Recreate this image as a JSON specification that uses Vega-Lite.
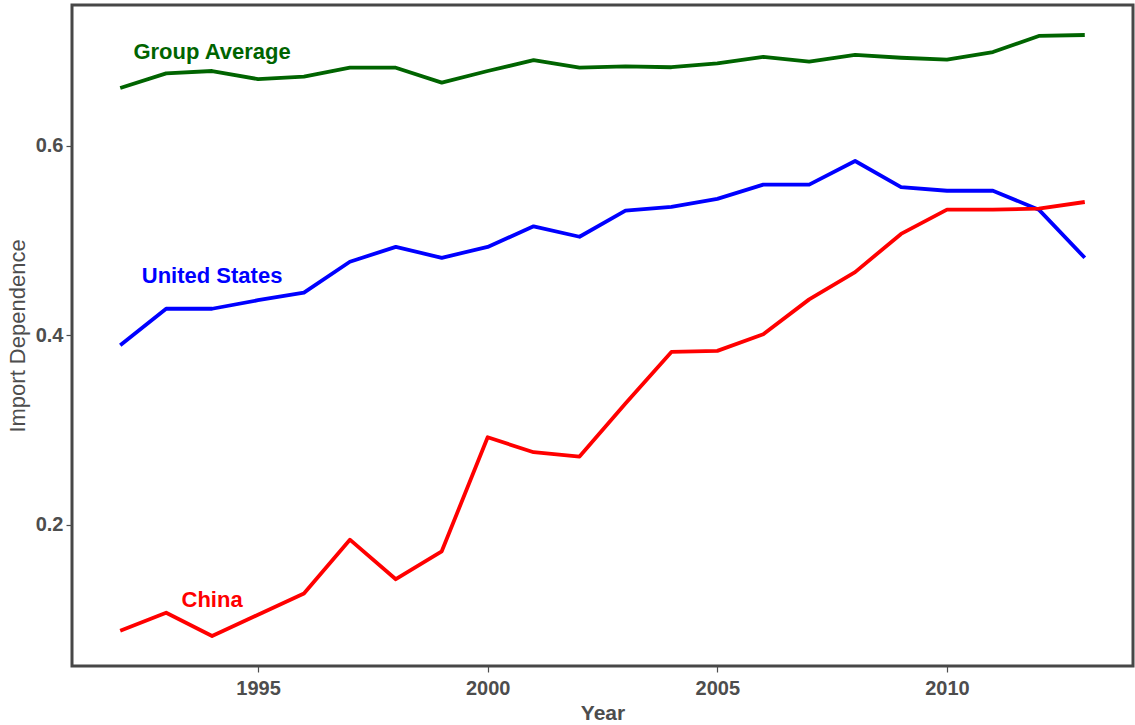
{
  "$schema": "https://vega.github.io/schema/vega-lite/v6.json",
  "width": 1061,
  "height": 661,
  "autosize": {"type": "none"},
  "padding": {"left": 72, "top": 5, "right": 2, "bottom": 59},
  "background": "white",
  "config": {
    "font": "Liberation Sans",
    "view": {"stroke": "#474747", "strokeWidth": 3},
    "axis": {
      "grid": false,
      "domain": false,
      "tickColor": "#4d4d4d",
      "tickWidth": 1.2,
      "tickSize": 6,
      "labelFont": "Liberation Sans",
      "labelFontSize": 20,
      "labelFontWeight": "bold",
      "labelColor": "#4d4d4d",
      "titleFont": "Liberation Sans",
      "titleColor": "#4d4d4d",
      "titleFontSize": 21
    }
  },
  "datasets": {
    "series": [
      {"Year": 1992, "Group": "Group Average", "Value": 0.661},
      {"Year": 1993, "Group": "Group Average", "Value": 0.6765},
      {"Year": 1994, "Group": "Group Average", "Value": 0.679},
      {"Year": 1995, "Group": "Group Average", "Value": 0.6705},
      {"Year": 1996, "Group": "Group Average", "Value": 0.673},
      {"Year": 1997, "Group": "Group Average", "Value": 0.6825},
      {"Year": 1998, "Group": "Group Average", "Value": 0.6825},
      {"Year": 1999, "Group": "Group Average", "Value": 0.6667},
      {"Year": 2000, "Group": "Group Average", "Value": 0.679},
      {"Year": 2001, "Group": "Group Average", "Value": 0.6905},
      {"Year": 2002, "Group": "Group Average", "Value": 0.6825},
      {"Year": 2003, "Group": "Group Average", "Value": 0.684},
      {"Year": 2004, "Group": "Group Average", "Value": 0.683},
      {"Year": 2005, "Group": "Group Average", "Value": 0.687},
      {"Year": 2006, "Group": "Group Average", "Value": 0.694},
      {"Year": 2007, "Group": "Group Average", "Value": 0.689},
      {"Year": 2008, "Group": "Group Average", "Value": 0.696},
      {"Year": 2009, "Group": "Group Average", "Value": 0.693},
      {"Year": 2010, "Group": "Group Average", "Value": 0.691},
      {"Year": 2011, "Group": "Group Average", "Value": 0.699},
      {"Year": 2012, "Group": "Group Average", "Value": 0.716},
      {"Year": 2013, "Group": "Group Average", "Value": 0.717},
      {"Year": 1992, "Group": "United States", "Value": 0.3895},
      {"Year": 1993, "Group": "United States", "Value": 0.428},
      {"Year": 1994, "Group": "United States", "Value": 0.428},
      {"Year": 1995, "Group": "United States", "Value": 0.437},
      {"Year": 1996, "Group": "United States", "Value": 0.445},
      {"Year": 1997, "Group": "United States", "Value": 0.4776},
      {"Year": 1998, "Group": "United States", "Value": 0.4933},
      {"Year": 1999, "Group": "United States", "Value": 0.4818},
      {"Year": 2000, "Group": "United States", "Value": 0.4933},
      {"Year": 2001, "Group": "United States", "Value": 0.515},
      {"Year": 2002, "Group": "United States", "Value": 0.504},
      {"Year": 2003, "Group": "United States", "Value": 0.5316},
      {"Year": 2004, "Group": "United States", "Value": 0.5355},
      {"Year": 2005, "Group": "United States", "Value": 0.544},
      {"Year": 2006, "Group": "United States", "Value": 0.559},
      {"Year": 2007, "Group": "United States", "Value": 0.559},
      {"Year": 2008, "Group": "United States", "Value": 0.584},
      {"Year": 2009, "Group": "United States", "Value": 0.5565},
      {"Year": 2010, "Group": "United States", "Value": 0.5526},
      {"Year": 2011, "Group": "United States", "Value": 0.5526},
      {"Year": 2012, "Group": "United States", "Value": 0.5326},
      {"Year": 2013, "Group": "United States", "Value": 0.4818},
      {"Year": 1992, "Group": "China", "Value": 0.088},
      {"Year": 1993, "Group": "China", "Value": 0.107},
      {"Year": 1994, "Group": "China", "Value": 0.0825},
      {"Year": 1995, "Group": "China", "Value": 0.105},
      {"Year": 1996, "Group": "China", "Value": 0.1274},
      {"Year": 1997, "Group": "China", "Value": 0.1842},
      {"Year": 1998, "Group": "China", "Value": 0.1424},
      {"Year": 1999, "Group": "China", "Value": 0.1719},
      {"Year": 2000, "Group": "China", "Value": 0.2923},
      {"Year": 2001, "Group": "China", "Value": 0.2765},
      {"Year": 2002, "Group": "China", "Value": 0.2719},
      {"Year": 2003, "Group": "China", "Value": 0.328},
      {"Year": 2004, "Group": "China", "Value": 0.3824},
      {"Year": 2005, "Group": "China", "Value": 0.3835},
      {"Year": 2006, "Group": "China", "Value": 0.401},
      {"Year": 2007, "Group": "China", "Value": 0.4379},
      {"Year": 2008, "Group": "China", "Value": 0.4667},
      {"Year": 2009, "Group": "China", "Value": 0.507},
      {"Year": 2010, "Group": "China", "Value": 0.5326},
      {"Year": 2011, "Group": "China", "Value": 0.5326},
      {"Year": 2012, "Group": "China", "Value": 0.5337},
      {"Year": 2013, "Group": "China", "Value": 0.5407}
    ],
    "labels": [
      {"Year": 1994, "Group": "Group Average", "Value": 0.699},
      {"Year": 1994, "Group": "United States", "Value": 0.463},
      {"Year": 1994, "Group": "China", "Value": 0.12}
    ]
  },
  "layer": [
    {
      "data": {"name": "series"},
      "mark": {"type": "line", "strokeWidth": 3.8, "strokeJoin": "round"},
      "encoding": {
        "x": {
          "field": "Year", "type": "quantitative",
          "scale": {"domain": [1990.95, 2014.05], "nice": false, "zero": false},
          "axis": {"values": [1995, 2000, 2005, 2010], "format": "d", "title": "Year", "titleFontWeight": "bold", "labelPadding": 6, "titlePadding": 4}
        },
        "y": {
          "field": "Value", "type": "quantitative",
          "scale": {"domain": [0.0508, 0.7487], "nice": false, "zero": false},
          "axis": {"values": [0.2, 0.4, 0.6], "format": ".1f", "title": "Import Dependence", "titleFontWeight": "normal", "titleFontSize": 22, "labelPadding": 3, "titlePadding": 6}
        },
        "color": {
          "field": "Group", "type": "nominal",
          "scale": {"domain": ["Group Average", "United States", "China"], "range": ["#006400", "#0000FF", "#FF0000"]},
          "legend": null
        },
        "detail": {"field": "Group"}
      }
    },
    {
      "data": {"name": "labels"},
      "mark": {"type": "text", "fontSize": 22, "fontWeight": "bold", "align": "center", "baseline": "middle", "font": "Liberation Sans"},
      "encoding": {
        "x": {"field": "Year", "type": "quantitative"},
        "y": {"field": "Value", "type": "quantitative"},
        "text": {"field": "Group"},
        "color": {"field": "Group", "type": "nominal", "legend": null}
      }
    }
  ]
}
